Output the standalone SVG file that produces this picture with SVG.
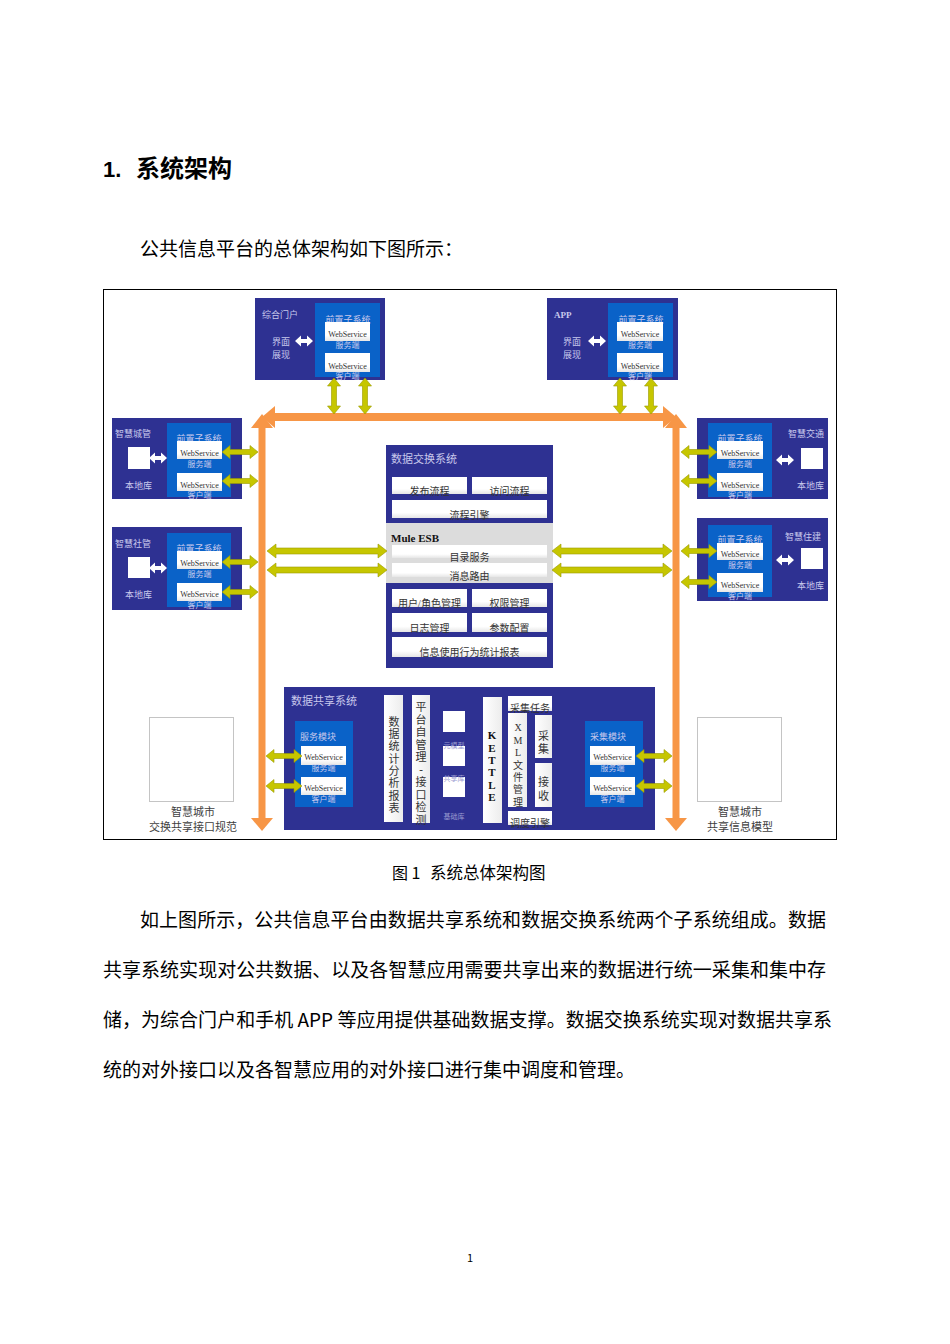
<svg xmlns="http://www.w3.org/2000/svg" xmlns:xlink="http://www.w3.org/1999/xlink" width="950" height="1344" viewBox="0 0 950 1344">
<style>
.navy{fill:#2E3192}
.blue{fill:#0A62C8}
.wb{fill:url(#wg)}
.sq{fill:#fff}
.t{font-family:"Liberation Serif","Noto Sans CJK SC",serif}
.lt{fill:#C8C8EC}
.dk{fill:#333}
.s9{font-size:9px}
.s8{font-size:8px}
.s10{font-size:10px}
.s11{font-size:11px}
.mid{text-anchor:middle}
.b{font-weight:bold}
.ya{fill:#C6C600;stroke:#9A9A00;stroke-width:0.6}
.wa{fill:#fff}
.or{fill:#F79646}
.p{font-family:"Noto Sans CJK SC","Noto Sans",sans-serif;fill:#000}
.col{fill:url(#wg2)}
</style>
<defs>
<linearGradient id="wg" x1="0" y1="0" x2="0" y2="1"><stop offset="0" stop-color="#fff"/><stop offset="0.7" stop-color="#fff"/><stop offset="1" stop-color="#e6e6e6"/></linearGradient>
<linearGradient id="wg2" x1="0" y1="0" x2="1" y2="0"><stop offset="0" stop-color="#fff"/><stop offset="1" stop-color="#ececec"/></linearGradient>
<path id="ya36" d="M0,0 L8,-6.5 L8,-2.5 L28,-2.5 L28,-6.5 L36,0 L28,6.5 L28,2.5 L8,2.5 L8,6.5 Z"/>
<path id="ya120" d="M0,0 L9,-7 L9,-3 L111,-3 L111,-7 L120,0 L111,7 L111,3 L9,3 L9,7 Z"/>
<path id="wa18" d="M0,0 L6,-5.5 L6,-2 L12,-2 L12,-5.5 L18,0 L12,5.5 L12,2 L6,2 L6,5.5 Z"/>
</defs>
<rect width="950" height="1344" fill="#fff"/>

<g id="heading">
<text x="103" y="177" font-family="Liberation Sans,Noto Sans CJK SC,sans-serif" font-size="22" font-weight="bold">1.</text>
<text x="136" y="177" font-family="Noto Sans CJK SC,sans-serif" font-size="24" font-weight="bold">系统架构</text>
<text class="p" x="140" y="256" font-size="19">公共信息平台的总体架构如下图所示：</text>
</g>

<rect id="frame" x="103.5" y="289.5" width="733" height="550" fill="#fff" stroke="#000" stroke-width="1"/>

<g id="portal">
<rect class="navy" x="255" y="298" width="130" height="82"/>
<text class="t lt s9" x="262" y="318">综合门户</text>
<text class="t lt s9" x="272" y="345">界面</text>
<text class="t lt s9" x="272" y="358">展现</text>
<use href="#wa18" class="wa" transform="translate(295,341)"/>
<rect class="blue" x="315" y="303" width="65" height="74"/>
<text class="t lt s9 mid" x="348" y="323">前置子系统</text>
<rect class="wb" x="325" y="322" width="45" height="19"/>
<text class="t dk s8 mid" x="347.5" y="337">WebService</text>
<text class="t lt s8 mid" x="347.5" y="348">服务端</text>
<rect class="wb" x="325" y="353" width="45" height="19"/>
<text class="t dk s8 mid" x="347.5" y="369">WebService</text>
<text class="t lt s8 mid" x="347.5" y="379">客户端</text>
</g>

<g id="app">
<rect class="navy" x="547" y="298" width="131" height="82"/>
<text class="t lt s9 b" x="554" y="318">APP</text>
<text class="t lt s9" x="563" y="345">界面</text>
<text class="t lt s9" x="563" y="358">展现</text>
<use href="#wa18" class="wa" transform="translate(588,341)"/>
<rect class="blue" x="608" y="303" width="65" height="74"/>
<text class="t lt s9 mid" x="641" y="323">前置子系统</text>
<rect class="wb" x="617" y="322" width="46" height="19"/>
<text class="t dk s8 mid" x="640" y="337">WebService</text>
<text class="t lt s8 mid" x="640" y="348">服务端</text>
<rect class="wb" x="617" y="353" width="46" height="19"/>
<text class="t dk s8 mid" x="640" y="369">WebService</text>
<text class="t lt s8 mid" x="640" y="379">客户端</text>
</g>

<g id="city-mgmt">
<rect class="navy" x="112" y="418" width="130" height="81"/>
<text class="t lt s9" x="115" y="437">智慧城管</text>
<rect class="sq" x="128" y="447" width="22" height="22"/>
<use href="#wa18" class="wa" transform="translate(149,458)"/>
<text class="t lt s9" x="125" y="489">本地库</text>
<rect class="blue" x="167" y="423" width="64" height="74"/>
<text class="t lt s9 mid" x="199" y="442">前置子系统</text>
<rect class="wb" x="177" y="441" width="45" height="18"/>
<text class="t dk s8 mid" x="199.5" y="456">WebService</text>
<text class="t lt s8 mid" x="199.5" y="467">服务端</text>
<rect class="wb" x="177" y="473" width="45" height="18"/>
<text class="t dk s8 mid" x="199.5" y="488">WebService</text>
<text class="t lt s8 mid" x="199.5" y="498">客户端</text>
</g>

<g id="social-mgmt">
<rect class="navy" x="112" y="527" width="130" height="83"/>
<text class="t lt s9" x="115" y="547">智慧社管</text>
<rect class="sq" x="128" y="557" width="22" height="21"/>
<use href="#wa18" class="wa" transform="translate(149,568)"/>
<text class="t lt s9" x="125" y="598">本地库</text>
<rect class="blue" x="167" y="533" width="64" height="74"/>
<text class="t lt s9 mid" x="199" y="552">前置子系统</text>
<rect class="wb" x="177" y="551" width="45" height="18"/>
<text class="t dk s8 mid" x="199.5" y="566">WebService</text>
<text class="t lt s8 mid" x="199.5" y="577">服务端</text>
<rect class="wb" x="177" y="583" width="45" height="18"/>
<text class="t dk s8 mid" x="199.5" y="597">WebService</text>
<text class="t lt s8 mid" x="199.5" y="608">客户端</text>
</g>

<g id="traffic">
<rect class="navy" x="697" y="418" width="131" height="81"/>
<text class="t lt s9" x="788" y="437">智慧交通</text>
<rect class="sq" x="801" y="448" width="22" height="21"/>
<use href="#wa18" class="wa" transform="translate(776,460)"/>
<text class="t lt s9" x="797" y="489">本地库</text>
<rect class="blue" x="708" y="423" width="64" height="74"/>
<text class="t lt s9 mid" x="740" y="442">前置子系统</text>
<rect class="wb" x="717" y="441" width="46" height="18"/>
<text class="t dk s8 mid" x="740" y="456">WebService</text>
<text class="t lt s8 mid" x="740" y="467">服务端</text>
<rect class="wb" x="717" y="473" width="46" height="18"/>
<text class="t dk s8 mid" x="740" y="488">WebService</text>
<text class="t lt s8 mid" x="740" y="498">客户端</text>
</g>

<g id="housing">
<rect class="navy" x="697" y="518" width="131" height="83"/>
<text class="t lt s9" x="785" y="540">智慧住建</text>
<rect class="sq" x="801" y="548" width="22" height="21"/>
<use href="#wa18" class="wa" transform="translate(776,560)"/>
<text class="t lt s9" x="797" y="589">本地库</text>
<rect class="blue" x="708" y="525" width="64" height="72"/>
<text class="t lt s9 mid" x="740" y="543">前置子系统</text>
<rect class="wb" x="717" y="543" width="46" height="17"/>
<text class="t dk s8 mid" x="740" y="557">WebService</text>
<text class="t lt s8 mid" x="740" y="568">服务端</text>
<rect class="wb" x="717" y="573" width="46" height="19"/>
<text class="t dk s8 mid" x="740" y="588">WebService</text>
<text class="t lt s8 mid" x="740" y="599">客户端</text>
</g>

<g id="exchange">
<rect class="navy" x="386" y="445" width="167" height="223"/>
<rect x="386" y="523" width="167" height="60" fill="#DCDCDC"/>
<text class="t lt s11" x="391" y="463">数据交换系统</text>
<rect class="wb" x="392" y="477" width="75" height="17"/>
<text class="t dk s10 mid" x="429.5" y="495">发布流程</text>
<rect class="wb" x="472" y="477" width="75" height="17"/>
<text class="t dk s10 mid" x="509.5" y="495">访问流程</text>
<rect class="wb" x="392" y="500" width="155" height="18"/>
<text class="t dk s10 mid" x="469.5" y="519">流程引擎</text>
<text class="t s11 b" x="391" y="542" fill="#111">Mule ESB</text>
<rect class="wb" x="392" y="545" width="155" height="13"/>
<text class="t dk s10 mid" x="469.5" y="561">目录服务</text>
<rect class="wb" x="392" y="563" width="155" height="14"/>
<text class="t dk s10 mid" x="469.5" y="580">消息路由</text>
<rect class="wb" x="392" y="589" width="75" height="18"/>
<text class="t dk s10 mid" x="429.5" y="607">用户/角色管理</text>
<rect class="wb" x="472" y="589" width="75" height="18"/>
<text class="t dk s10 mid" x="509.5" y="607">权限管理</text>
<rect class="wb" x="392" y="613" width="75" height="19"/>
<text class="t dk s10 mid" x="429.5" y="632">日志管理</text>
<rect class="wb" x="472" y="613" width="75" height="19"/>
<text class="t dk s10 mid" x="509.5" y="632">参数配置</text>
<rect class="wb" x="392" y="637" width="155" height="20"/>
<text class="t dk s10 mid" x="469.5" y="656">信息使用行为统计报表</text>
</g>

<g id="sharing">
<rect class="navy" x="284" y="687" width="371" height="143"/>
<text class="t lt s11" x="291" y="705">数据共享系统</text>
<rect class="blue" x="295" y="721" width="58" height="86"/>
<text class="t lt s9" x="300" y="740">服务模块</text>
<rect class="wb" x="301" y="746" width="45" height="19"/>
<text class="t dk s8 mid" x="323.5" y="760">WebService</text>
<text class="t lt s8 mid" x="323.5" y="771">服务端</text>
<rect class="wb" x="301" y="777" width="45" height="18"/>
<text class="t dk s8 mid" x="323.5" y="791">WebService</text>
<text class="t lt s8 mid" x="323.5" y="802">客户端</text>

<rect class="col" x="384" y="695" width="19" height="127"/>
<g class="t dk s11 mid">
<text x="394" y="726">数</text><text x="394" y="738">据</text><text x="394" y="750">统</text><text x="394" y="763">计</text><text x="394" y="775">分</text><text x="394" y="787">析</text><text x="394" y="800">报</text><text x="394" y="812">表</text>
</g>
<rect class="col" x="412" y="695" width="18" height="128"/>
<g class="t dk s11 mid">
<text x="421" y="711">平</text><text x="421" y="724">台</text><text x="421" y="736">自</text><text x="421" y="749">管</text><text x="421" y="761">理</text><text x="421" y="773" class="b">-</text><text x="421" y="786">接</text><text x="421" y="799">口</text><text x="421" y="811">检</text><text x="421" y="824">测</text>
</g>
<rect class="sq" x="443" y="711" width="22" height="21"/>
<rect class="sq" x="443" y="746" width="22" height="20"/>
<rect class="sq" x="443" y="777" width="22" height="20"/>
<g class="t mid" font-size="7" fill="#9A9AD0">
<text x="454" y="748">元模型</text><text x="454" y="781">共享库</text><text x="454" y="819">基础库</text>
</g>
<rect class="col" x="483" y="697" width="19" height="126"/>
<g class="t s11 b mid" fill="#111">
<text x="492" y="739">K</text><text x="492" y="752">E</text><text x="492" y="764">T</text><text x="492" y="776">T</text><text x="492" y="789">L</text><text x="492" y="801">E</text>
</g>
<rect class="wb" x="508" y="696" width="44" height="15"/>
<text class="t dk s10 mid" x="530" y="712">采集任务</text>
<rect class="col" x="508" y="713" width="19" height="94"/>
<g class="t dk s10 mid">
<text x="518" y="731">X</text><text x="518" y="744">M</text><text x="518" y="756">L</text><text x="518" y="769">文</text><text x="518" y="781">件</text><text x="518" y="793">管</text><text x="518" y="806">理</text>
</g>
<rect class="col" x="535" y="715" width="17" height="43"/>
<text class="t dk s11 mid" x="543.5" y="740">采</text>
<text class="t dk s11 mid" x="543.5" y="753">集</text>
<rect class="col" x="535" y="763" width="17" height="44"/>
<text class="t dk s11 mid" x="543.5" y="786">接</text>
<text class="t dk s11 mid" x="543.5" y="800">收</text>
<rect class="wb" x="508" y="811" width="44" height="14"/>
<text class="t dk s10 mid" x="530" y="827">调度引擎</text>

<rect class="blue" x="585" y="721" width="58" height="86"/>
<text class="t lt s9" x="590" y="740">采集模块</text>
<rect class="wb" x="590" y="746" width="45" height="19"/>
<text class="t dk s8 mid" x="612.5" y="760">WebService</text>
<text class="t lt s8 mid" x="612.5" y="771">服务端</text>
<rect class="wb" x="590" y="777" width="45" height="18"/>
<text class="t dk s8 mid" x="612.5" y="791">WebService</text>
<text class="t lt s8 mid" x="612.5" y="802">客户端</text>
</g>

<g id="spec">
<rect x="149.5" y="717.5" width="84" height="84" fill="#fff" stroke="#C4C4C4" stroke-width="1"/>
<text class="t s11 mid" x="193" y="816" fill="#404040">智慧城市</text>
<text class="t s11 mid" x="193" y="831" fill="#404040">交换共享接口规范</text>
</g>
<g id="model">
<rect x="697.5" y="717.5" width="84" height="84" fill="#fff" stroke="#C4C4C4" stroke-width="1"/>
<text class="t s11 mid" x="740" y="816" fill="#404040">智慧城市</text>
<text class="t s11 mid" x="740" y="831" fill="#404040">共享信息模型</text>
</g>

<g id="connectors">
<rect class="or" x="272" y="413" width="394" height="8"/>
<polygon class="or" points="262,417 275,406 275,428"/>
<polygon class="or" points="676,417 663,406 663,428"/>
<rect class="or" x="258.5" y="425" width="7" height="396"/>
<polygon class="or" points="262,414 251,428 273,428"/>
<polygon class="or" points="262,831 251,818 273,818"/>
<rect class="or" x="672.5" y="425" width="7" height="396"/>
<polygon class="or" points="676,414 665,428 687,428"/>
<polygon class="or" points="676,831 665,818 687,818"/>
<use href="#ya36" class="ya" transform="translate(334,378) rotate(90)"/>
<use href="#ya36" class="ya" transform="translate(365,378) rotate(90)"/>
<use href="#ya36" class="ya" transform="translate(620,378) rotate(90)"/>
<use href="#ya36" class="ya" transform="translate(651,378) rotate(90)"/>
<use href="#ya36" class="ya" transform="translate(222,452)"/>
<use href="#ya36" class="ya" transform="translate(222,481)"/>
<use href="#ya36" class="ya" transform="translate(222,562)"/>
<use href="#ya36" class="ya" transform="translate(222,592)"/>
<use href="#ya36" class="ya" transform="translate(681,452)"/>
<use href="#ya36" class="ya" transform="translate(681,481)"/>
<use href="#ya36" class="ya" transform="translate(681,551)"/>
<use href="#ya36" class="ya" transform="translate(681,582)"/>
<use href="#ya120" class="ya" transform="translate(267,551)"/>
<use href="#ya120" class="ya" transform="translate(267,570)"/>
<use href="#ya120" class="ya" transform="translate(552,551)"/>
<use href="#ya120" class="ya" transform="translate(552,570)"/>
<use href="#ya36" class="ya" transform="translate(266,756)"/>
<use href="#ya36" class="ya" transform="translate(266,786)"/>
<use href="#ya36" class="ya" transform="translate(636,756)"/>
<use href="#ya36" class="ya" transform="translate(636,786)"/>
</g>

<g id="caption">
<text class="p" x="392" y="879" font-size="16">图 1</text>
<text class="p" x="430" y="879" font-size="16.5">系统总体架构图</text>
</g>

<g id="body">
<text class="p" x="140" y="927" font-size="19" textLength="686" lengthAdjust="spacing">如上图所示，公共信息平台由数据共享系统和数据交换系统两个子系统组成。数据</text>
<text class="p" x="103" y="977" font-size="19" textLength="723" lengthAdjust="spacing">共享系统实现对公共数据、以及各智慧应用需要共享出来的数据进行统一采集和集中存</text>
<text class="p" x="103" y="1027" font-size="19" textLength="729" lengthAdjust="spacing">储，为综合门户和手机 APP 等应用提供基础数据支撑。数据交换系统实现对数据共享系</text>
<text class="p" x="103" y="1077" font-size="19">统的对外接口以及各智慧应用的对外接口进行集中调度和管理。</text>
<text class="p" x="470" y="1262" font-size="11" text-anchor="middle">1</text>
</g>
</svg>
